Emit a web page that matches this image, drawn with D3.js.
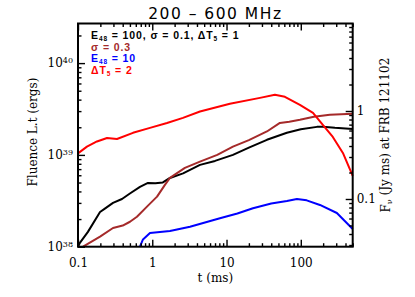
<!DOCTYPE html>
<html>
<head>
<meta charset="utf-8">
<script src="https://cdn.jsdelivr.net/npm/d3@7"></script>
<style>
  body { margin: 0; background: #fff; }
  svg { display: block; }
</style>
</head>
<body>
<svg class="chart" width="415" height="297"></svg>
<script>
// time (ms) and fluence L.t (ergs), one pair of arrays per run
const blackT = [0.1, 0.106, 0.136, 0.198, 0.23, 0.296, 0.391, 0.5, 0.683, 0.875, 1.1, 1.39, 1.73, 2.6, 4.39, 7, 12.2, 20, 35, 65, 100, 165, 198, 288, 500],
      blackL = [1e38, 1.10e38, 1.45e38, 2.39e38, 2.6e38, 3.0e38, 3.31e38, 3.8e38, 4.48e38, 4.95e38, 4.9e38, 5.01e38, 5.61e38, 6.3e38, 7.78e38, 8.6e38, 1.0e39, 1.2e39, 1.46e39, 1.74e39, 1.9e39, 2.02e39, 2.02e39, 1.97e39, 1.92e39]

const brownT = [0.117, 0.198, 0.296, 0.4, 0.501, 0.622, 0.849, 1.16, 1.48, 1.73, 2.75, 4.39, 7.5, 12.2, 20, 35, 52.3, 70, 97.3, 150, 246, 500],
      brownL = [1e38, 1.29e38, 1.60e38, 1.70e38, 1.87e38, 2.12e38, 2.73e38, 3.51e38, 4.71e38, 5.61e38, 7.21e38, 8.45e38, 1.0e39, 1.23e39, 1.45e39, 1.80e39, 2.23e39, 2.3e39, 2.41e39, 2.6e39, 2.73e39, 2.80e39]

const blueT = [0.683, 0.75, 0.931, 1.73, 3.22, 8.15, 14, 22.7, 40, 65, 88.7, 120, 181, 306, 500],
      blueL = [1e38, 1.2e38, 1.41e38, 1.48e38, 1.65e38, 2.04e38, 2.3e38, 2.62e38, 2.95e38, 3.15e38, 3.31e38, 3.2e38, 2.85e38, 2.33e38, 1.56e38]

const redT = [0.1, 0.132, 0.180, 0.246, 0.335, 0.550, 0.931, 1.58, 2.59, 4.39, 11.1, 28.2, 44.8, 61.1, 97.3, 146, 198, 270, 369, 500],
      redL = [1.04e39, 1.23e39, 1.40e39, 1.53e39, 1.49e39, 1.74e39, 1.97e39, 2.23e39, 2.53e39, 2.97e39, 3.60e39, 4.18e39, 4.51e39, 4.29e39, 3.51e39, 2.87e39, 2.12e39, 1.57e39, 1.05e39, 5.90e38]

const xMajor = [0.1, 1, 10, 100],
      xTickLabels = ["0.1", "1", "10", "100"],
      yMajor = [1e38, 1e39, 1e40],
      yExponents = ["38", "39", "40"],
      rMajor = [0.1, 1],
      rTickLabels = ["0.1", "1"]

const margin = { top: 23.5, right: 62.3, bottom: 50.3, left: 78 },
      width = 415 - margin.left - margin.right,
      height = 297 - margin.top - margin.bottom

var x = d3.scaleLog().domain([0.1, 500]).range([0, width])
var y = d3.scaleLog().domain([1e38, 2.7e40]).range([height, 0])
var yR = d3.scaleLog().domain([0.0287, 9.87]).range([height, 0])

// minor ticks at 2..9 of every decade inside a domain
function minors(scale) {
  var dom = scale.domain(), out = []
  for (var e = Math.floor(Math.log10(dom[0])); e <= Math.ceil(Math.log10(dom[1])); e++) {
    for (var m = 2; m < 10; m++) {
      var v = m * Math.pow(10, e)
      if (v >= dom[0] && v <= dom[1]) out.push(v)
    }
  }
  return out
}

var svg = d3.select(".chart")
var serif = "'DejaVu Serif', serif"

svg.append("text")
  .attr("x", margin.left + width / 2)
  .attr("y", 19)
  .attr("text-anchor", "middle")
  .style("font-family", "'DejaVu Sans', sans-serif")
  .style("font-size", "15.5px")
  .style("letter-spacing", "1.5px")
  .text("200 \u2013 600 MHz")

var g = svg.append("g")
  .attr("transform", "translate(" + margin.left + "," + margin.top + ")")

var line = d3.line()
  .x(function(d) { return x(d[0]) })
  .y(function(d) { return y(d[1]) })

var series = [
  { t: blackT, l: blackL, color: "#000000" },
  { t: brownT, l: brownL, color: "#a52a2a" },
  { t: blueT, l: blueL, color: "#0000ff" },
  { t: redT, l: redL, color: "#ff0000" }
]

g.append("g")
  .selectAll("path")
  .data(series)
  .enter().append("path")
    .attr("d", function(s) { return line(d3.zip(s.t, s.l)) })
    .attr("fill", "none")
    .attr("stroke", function(s) { return s.color })
    .attr("stroke-width", 2)
    .attr("stroke-linejoin", "round")

g.append("rect")
  .attr("width", width)
  .attr("height", height)
  .attr("fill", "none")
  .attr("stroke", "#000")
  .attr("stroke-width", 2)

// axis titles
g.append("text")
  .attr("x", width / 2)
  .attr("y", height + 35)
  .attr("text-anchor", "middle")
  .style("font-family", serif)
  .style("font-size", "12px")
  .text("t (ms)")

g.append("text")
  .attr("transform", "translate(" + (-41) + "," + (height / 2 - 3) + ") rotate(-90)")
  .attr("text-anchor", "middle")
  .style("font-family", serif)
  .style("font-size", "12px")
  .text("Fluence L.t (ergs)")

var rLabel = g.append("text")
  .attr("transform", "translate(" + (width + 37) + "," + (height / 2) + ") rotate(-90)")
  .attr("text-anchor", "middle")
  .style("font-family", serif)
  .style("font-size", "12px")
rLabel.append("tspan").text("F")
rLabel.append("tspan").attr("dy", "0.3em").style("font-size", "8px").text("\u03bd")
rLabel.append("tspan").attr("dy", "-0.3em").text(" (Jy ms) at FRB 121102")

// legend
var legend = [
  { color: "#000000", parts: [["E", ""], ["48", "sub"], [" = 100, \u03c3 = 0.1, \u0394T", ""], ["5", "sub"], [" = 1", ""]] },
  { color: "#a52a2a", parts: [["\u03c3 = 0.3", ""]] },
  { color: "#0000ff", parts: [["E", ""], ["48", "sub"], [" = 10", ""]] },
  { color: "#ff0000", parts: [["\u0394T", ""], ["5", "sub"], [" = 2", ""]] }
]

legend.forEach(function(item, i) {
  var txt = g.append("text")
    .attr("x", 13)
    .attr("y", 15.5 + i * 11.5)
    .attr("fill", item.color)
    .style("font-family", "'Liberation Sans', Arial, sans-serif")
    .style("font-weight", "bold")
    .style("font-size", "10.5px")
    .style("letter-spacing", "0.9px")
  var shifted = false
  item.parts.forEach(function(p) {
    var ts = txt.append("tspan").text(p[0])
    if (p[1] === "sub") { ts.attr("dy", "2").style("font-size", "6.5px"); shifted = true }
    else if (shifted) { ts.attr("dy", "-2"); shifted = false }
  })
})

// axes last, ticks pointing inward like IDL
function styleAxis(sel) {
  sel.select(".domain").remove()
  sel.selectAll(".tick line").attr("stroke", "#000").attr("stroke-width", 1.4)
  sel.selectAll("text").style("font-family", serif).style("font-size", "12px").attr("fill", "#000")
}

var axes = svg.append("g")
  .attr("transform", "translate(" + margin.left + "," + margin.top + ")")

// bottom
axes.append("g").attr("transform", "translate(0," + height + ")")
  .call(d3.axisBottom(x).tickValues(xMajor).tickSize(-7).tickPadding(12)
    .tickFormat(function(d, i) { return xTickLabels[i] }))
  .call(styleAxis)
axes.append("g").attr("transform", "translate(0," + height + ")")
  .call(d3.axisBottom(x).tickValues(minors(x)).tickSize(-3.5).tickFormat(""))
  .call(styleAxis)
// top
axes.append("g")
  .call(d3.axisTop(x).tickValues(xMajor).tickSize(-7).tickFormat(""))
  .call(styleAxis)
axes.append("g")
  .call(d3.axisTop(x).tickValues(minors(x)).tickSize(-3.5).tickFormat(""))
  .call(styleAxis)
// left
var yAxis = axes.append("g")
  .call(d3.axisLeft(y).tickValues(yMajor).tickSize(-7).tickPadding(5)
    .tickFormat(function(d, i) { return "10" }))
  .call(styleAxis)
yAxis.selectAll(".tick text").each(function(d, i) {
  d3.select(this).append("tspan")
    .attr("dy", "-0.55em")
    .style("font-size", "8px")
    .text(yExponents[i])
})
axes.append("g")
  .call(d3.axisLeft(y).tickValues(minors(y)).tickSize(-3.5).tickFormat(""))
  .call(styleAxis)
// right
axes.append("g").attr("transform", "translate(" + width + ",0)")
  .call(d3.axisRight(yR).tickValues(rMajor).tickSize(-7).tickPadding(4)
    .tickFormat(function(d, i) { return rTickLabels[i] }))
  .call(styleAxis)
axes.append("g").attr("transform", "translate(" + width + ",0)")
  .call(d3.axisRight(yR).tickValues(minors(yR)).tickSize(-3.5).tickFormat(""))
  .call(styleAxis)
</script>
</body>
</html>
